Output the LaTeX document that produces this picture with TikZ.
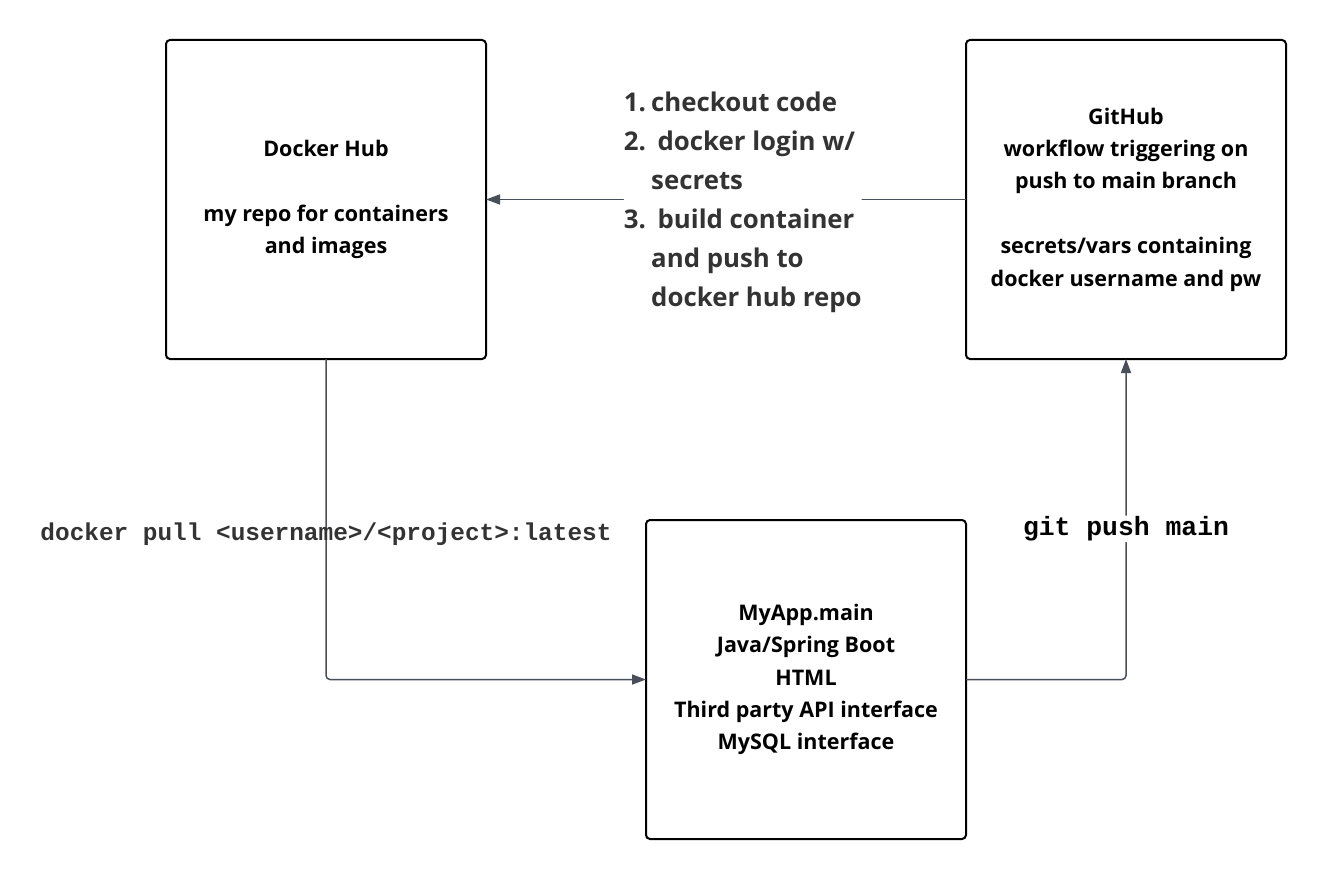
\documentclass[tikz,border=0pt]{standalone}
\usepackage{fontspec}
\setmainfont{Open Sans}
\setmonofont{Liberation Mono}
\usepackage{xcolor}
\usepackage{tikz}
\usetikzlibrary{arrows.meta,positioning}
\definecolor{linegray}{RGB}{72,78,90}
\definecolor{textgray}{RGB}{51,51,51}
\begin{document}
\begin{tikzpicture}
  [x=1pt,y=-1pt,
  box/.style={rectangle,draw=black,line width=2pt,rounded corners=4pt,outer sep=0pt,
    minimum width=320pt,minimum height=319pt,align=center,
    font=\bfseries\fontsize{21.5}{32.4}\selectfont},
  flow/.style={->,draw=linegray,line width=1.5pt,rounded corners=4pt,
    >={Triangle[length=14pt,width=10pt]}},
  steps/.style={fill=white,inner sep=0pt,align=left,text=textgray,
    font=\bfseries\fontsize{25.8}{39}\selectfont},
  cmd/.style={inner sep=1pt}
  ]
  \useasboundingbox (0,0) rectangle (1326,880);
  \node[box] (dockerhub) at (326,199.5) {Docker Hub\\[32.4pt]my repo for containers\\and images};
  \node[box] (github) [right = 480pt of dockerhub] {GitHub\\workflow triggering on\\push to main branch\\[32.4pt]secrets/vars containing\\docker username and pw};
  \node[box] (myapp) [below right = 161pt and 160pt of dockerhub] {MyApp.main\\Java/Spring Boot\\HTML\\Third party API interface\\MySQL interface};
  \draw[flow] (github.west) -- node[steps,pos=0.465,yshift=-3pt] {1.\hspace{0.2em}checkout code\\2.\hspace{0.45em}docker login w/\\\hphantom{1.\hspace{0.2em}}secrets\\3.\hspace{0.45em}build container\\\hphantom{1.\hspace{0.2em}}and push to\\\hphantom{1.\hspace{0.2em}}docker hub repo} (dockerhub.east);
  \draw[flow] (dockerhub.south) |- node[cmd,pos=0.273,text=textgray,font=\ttfamily\bfseries\fontsize{24.4}{28}\selectfont] {docker pull <username>/<project>:latest} (myapp.west);
  \draw[flow] (myapp.east) -| node[cmd,pos=0.735,fill=white,font=\ttfamily\bfseries\fontsize{26.4}{30}\selectfont] {git push main} (github.south);
\end{tikzpicture}
\end{document}
